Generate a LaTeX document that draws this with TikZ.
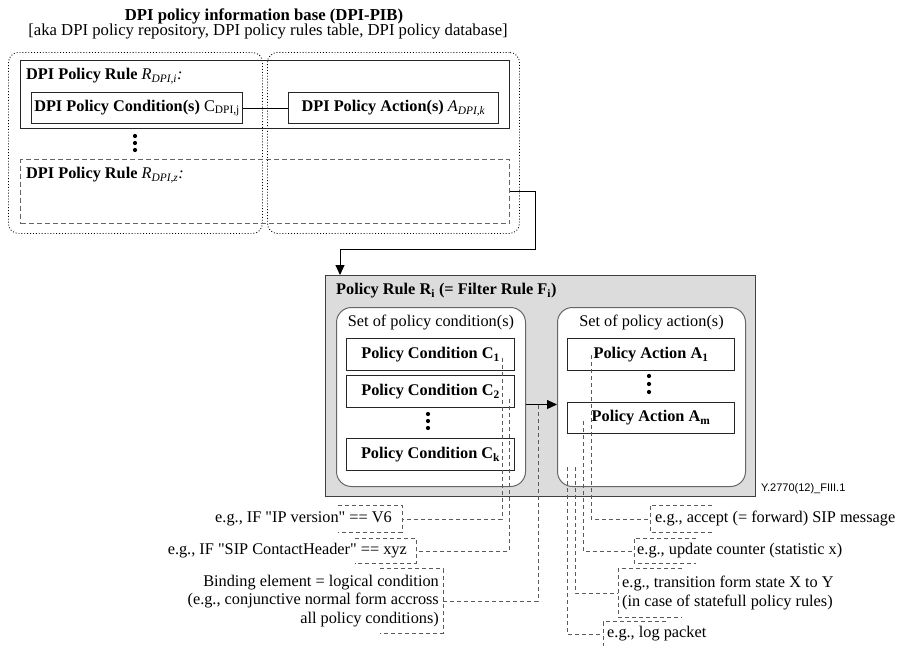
\documentclass[tikz,border=0pt]{standalone}
\usepackage{fontspec}
\setmainfont{Liberation Serif}
\setsansfont{Liberation Sans}
\usepackage{tikz}
\usepackage{xcolor}
\usetikzlibrary{arrows.meta}
\definecolor{rulegray}{HTML}{DCDCDC}
\definecolor{linegray}{HTML}{5A5A5A}
\tikzset{
    base-text/.style = {font=\fontsize{16.3}{18.6}\selectfont, inner sep=0pt},
    pib-half/.style = {draw=black, line width=0.9pt, dash pattern=on 0.9pt off 2pt, rounded corners=10pt, rectangle, anchor=north west},
    rule-box/.style = {draw=black!85, line width=1.4pt, rectangle, anchor=north west, inner sep=0pt},
    rule-box-dashed/.style = {draw=black!60, line width=1.2pt, dash pattern=on 5pt off 3pt, rectangle, anchor=north west, inner sep=0pt},
    item-box/.style = {base-text, draw=black!85, fill=white, line width=1.1pt, rectangle, anchor=north west, inner sep=1pt},
    outer-box/.style = {draw=black!75, fill=rulegray, line width=1.4pt, rectangle, anchor=north west, inner sep=0pt},
    set-box/.style = {draw=black!60, fill=white, line width=1pt, rounded corners=15pt, rectangle, anchor=north west, inner sep=0pt},
    flow/.style = {line width=1pt, -{Triangle[length=10pt,width=9pt]}},
    leader/.style = {draw=linegray, line width=0.7pt, dash pattern=on 4pt off 3pt},
    note-left/.style = {base-text, anchor=east, align=right},
    note-right/.style = {base-text, anchor=west, align=left},
}

\begin{document}
\begin{tikzpicture}[x=1pt, y=-1pt]
\useasboundingbox (0,0) rectangle (899,648);

\node[base-text, font=\bfseries\fontsize{16.7}{19}\selectfont] (title) at (264,16) {DPI policy information base (DPI-PIB)};
\node[base-text, font=\fontsize{16.7}{19}\selectfont] (subtitle) at (268,32) {[aka DPI policy repository, DPI policy rules table, DPI policy database]};

\node[pib-half, minimum width=254pt, minimum height=181pt] (pibleft) at (8,52) {};
\node[pib-half, minimum width=252pt, minimum height=181pt] (pibright) at (267,52) {};

\node[rule-box, minimum width=489pt, minimum height=68pt] (rulei) at (20,60) {};
\node[base-text, anchor=west, xshift=6pt, yshift=-16pt] at (rulei.north west) {\textbf{DPI Policy Rule} \textit{R}\textsubscript{\textit{DPI,i}}\textit{:}};
\node[item-box, minimum width=211pt, minimum height=31pt] (condj) at (31,92) {\textbf{DPI Policy Condition(s)} C\textsubscript{DPI,j}};
\node[item-box, minimum width=210pt, minimum height=31pt] (actk) at (288,92) {\textbf{DPI Policy Action(s)} \textit{A}\textsubscript{\textit{DPI,k}}};
\draw[line width=1pt] (condj) -- (actk);
\fill (135,136) circle (2.1pt) (135,143) circle (2.1pt) (135,150) circle (2.1pt);

\node[rule-box-dashed, minimum width=489pt, minimum height=64pt] (rulez) at (20,159) {};
\node[base-text, anchor=west, xshift=6pt, yshift=-16pt] at (rulez.north west) {\textbf{DPI Policy Rule} \textit{R}\textsubscript{\textit{DPI,z}}\textit{:}};

\node[outer-box, minimum width=430pt, minimum height=221pt] (rulebox) at (325,275) {};
\node[base-text, anchor=west, xshift=11pt, yshift=-16pt] at (rulebox.north west) {\textbf{Policy Rule R\textsubscript{i} (= Filter Rule F\textsubscript{i})}};
\coordinate (bend) at (535,249);
\draw[flow] (rulez.east) -| (bend) -| ([xshift=15pt]rulebox.north west);

\node[set-box, minimum width=189pt, minimum height=179pt] (condset) at (336,307) {};
\node[base-text, yshift=-16pt] at (condset.north) {Set of policy condition(s)};
\node[item-box, minimum width=168pt, minimum height=32pt] (cond1) at (346,338) {\textbf{Policy Condition C\textsubscript{1}}};
\node[item-box, minimum width=168pt, minimum height=32pt] (cond2) at (346,375) {\textbf{Policy Condition C\textsubscript{2}}};
\node[item-box, minimum width=168pt, minimum height=32pt] (condk) at (346,438) {\textbf{Policy Condition C\textsubscript{k}}};
\fill (428,414) circle (2.1pt) (428,421) circle (2.1pt) (428,428) circle (2.1pt);

\node[set-box, minimum width=188pt, minimum height=179pt] (actset) at (557,307) {};
\node[base-text, yshift=-16pt] at (actset.north) {Set of policy action(s)};
\node[item-box, minimum width=167pt, minimum height=32pt] (act1) at (567,338) {\textbf{Policy Action A\textsubscript{1}}};
\node[item-box, minimum width=167pt, minimum height=31pt] (actm) at (567,402) {\textbf{Policy Action A\textsubscript{m}}};
\fill (649,376) circle (2.1pt) (649,384) circle (2.1pt) (649,392) circle (2.1pt);

\draw[flow] ([yshift=-7.5pt]condset.east) -- ([yshift=-7.5pt]actset.west);
\node[base-text, anchor=west, font=\sffamily\fontsize{11}{13}\selectfont] (figid) at (761,489) {Y.2770(12)\_FIII.1};

\coordinate (lc1) at (502,358);
\coordinate (lc2) at (509,399);
\coordinate (lc3) at (538,405);
\coordinate (lc4) at (591,355);
\coordinate (lc5) at (583,421);
\coordinate (lc6) at (575,467);
\coordinate (lc7) at (567,467);

\node[note-left, minimum height=27pt, inner xsep=10pt] (ipver) at (402,519) {e.g., IF \textquotedbl IP version\textquotedbl{} == V6};
\node[note-left, minimum height=25pt, inner xsep=9pt] (sipch) at (416,551) {e.g., IF \textquotedbl SIP ContactHeader\textquotedbl{} == xyz};
\node[note-left, minimum height=64pt, inner xsep=4pt] (binding) at (443,601) {Binding element = logical condition\\(e.g., conjunctive normal form accross\\all policy conditions)};
\node[note-right, minimum height=27pt, inner xsep=5pt] (accept) at (650,519) {e.g., accept (= forward) SIP message};
\node[note-right, minimum height=25pt, inner xsep=3pt] (counter) at (634,551) {e.g., update counter (statistic x)};
\node[note-right, minimum height=48pt, inner xsep=4pt] (trans) at (618,593) {e.g., transition form state X to Y\\(in case of statefull policy rules)};
\node[note-right, minimum height=24pt, inner xsep=4pt] (logpkt) at (603,634) {e.g., log packet};

\draw[leader] ([xshift=-64pt]ipver.north east) -- (ipver.north east) -- (ipver.south east) -- ([xshift=-64pt]ipver.south east);
\draw[leader] ([xshift=-61pt]sipch.north east) -- (sipch.north east) -- (sipch.south east) -- ([xshift=-61pt]sipch.south east);
\draw[leader] ([xshift=-63pt]binding.north east) -- (binding.north east) -- (binding.south east) -- ([xshift=-63pt]binding.south east);
\draw[leader] ([xshift=62pt]accept.north west) -- (accept.north west) -- (accept.south west) -- ([xshift=62pt]accept.south west);
\draw[leader] ([xshift=62pt]counter.north west) -- (counter.north west) -- (counter.south west) -- ([xshift=62pt]counter.south west);
\draw[leader] ([xshift=64pt]trans.north west) -- (trans.north west) -- (trans.south west) -- ([xshift=64pt]trans.south west);
\draw[leader] ([xshift=63pt]logpkt.north west) -- (logpkt.north west) -- (logpkt.south west);

\draw[leader] (lc1) |- (ipver.east);
\draw[leader] (lc2) |- (sipch.east);
\draw[leader] (lc3) |- (binding.east);
\draw[leader] (lc4) |- (accept.west);
\draw[leader] (lc5) |- (counter.west);
\draw[leader] (lc6) |- (trans.west);
\draw[leader] (lc7) |- (logpkt.west);
\end{tikzpicture}
\end{document}
